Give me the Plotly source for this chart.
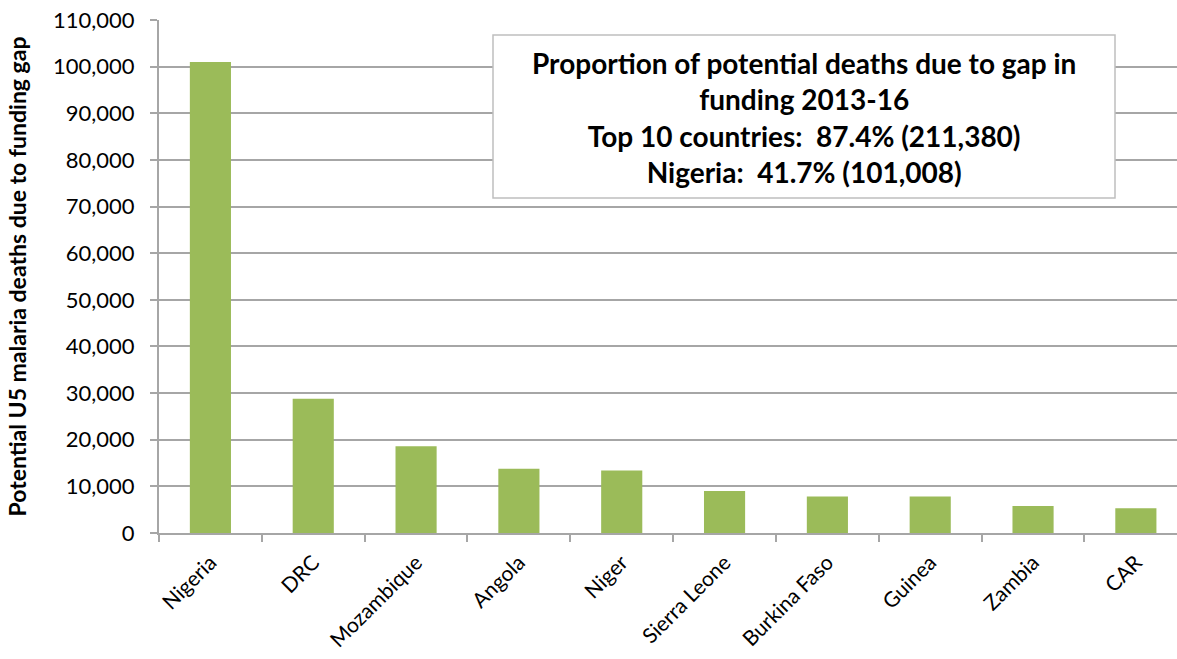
import plotly.graph_objects as go

countries = ["Nigeria", "DRC", "Mozambique", "Angola", "Niger", "Sierra Leone",
             "Burkina Faso", "Guinea", "Zambia", "CAR"]
deaths = [101008, 28800, 18600, 13800, 13400, 9000, 7800, 7800, 5800, 5300]
y_ticks = list(range(0, 110001, 10000))
y_ticktext = [f"{v:,}" for v in y_ticks]

box_lines = ["Proportion of potential deaths due to gap in",
             "funding 2013-16",
             "Top 10 countries:  87.4% (211,380)",
             "Nigeria:  41.7% (101,008)"]

FONT = "Lato"
GRID = "#a6a6a6"

fig = go.Figure()
fig.add_trace(go.Bar(x=countries, y=deaths, marker=dict(color="#9bbb59", line=dict(width=0)),
                     width=0.4))

L, T, B = 159, 20, 126
W, H = 1177, 659
pw = W - L
ph = H - T - B

def px(x):
    return (x - L) / pw

def py(y):
    return (H - B - y) / ph

fig.add_shape(type="rect", xref="paper", yref="paper",
              x0=px(493), x1=px(1115), y0=py(198), y1=py(35),
              line=dict(color="#bfbfbf", width=1.5), fillcolor="white", layer="above")
fig.add_annotation(xref="paper", yref="paper", x=px(804), y=py(117),
                   text="<br>".join(box_lines), showarrow=False,
                   font=dict(family=FONT, size=28, color="black", weight="bold"),
                   align="center", xanchor="center", yanchor="middle")

fig.update_layout(
    width=W, height=H,
    margin=dict(l=L, r=0, t=T, b=B),
    plot_bgcolor="white", paper_bgcolor="white",
    showlegend=False,
    font=dict(family=FONT, color="black"),
    xaxis=dict(range=[-0.5, 9.4], showline=True, linecolor=GRID, linewidth=2,
               ticks="outside", tickson="boundaries", ticklen=7, tickcolor=GRID, tickwidth=2,
               tickangle=-45, tickfont=dict(size=21, family=FONT), showgrid=False,
               ticklabelstandoff=7, automargin=False),
    yaxis=dict(range=[0, 110000], tickvals=y_ticks, ticktext=y_ticktext,
               showline=True, linecolor=GRID, linewidth=2,
               ticks="outside", ticklen=7, tickcolor=GRID, tickwidth=2,
               showgrid=True, gridcolor=GRID, gridwidth=2, zeroline=False,
               tickfont=dict(size=22, family=FONT), ticklabelstandoff=11,
               automargin=False,
               title=dict(text="<b>Potential U5 malaria deaths due to funding gap</b>",
                          font=dict(size=23, family=FONT), standoff=20)),
    bargap=0.6,
)

fig.write_html("out.html")
